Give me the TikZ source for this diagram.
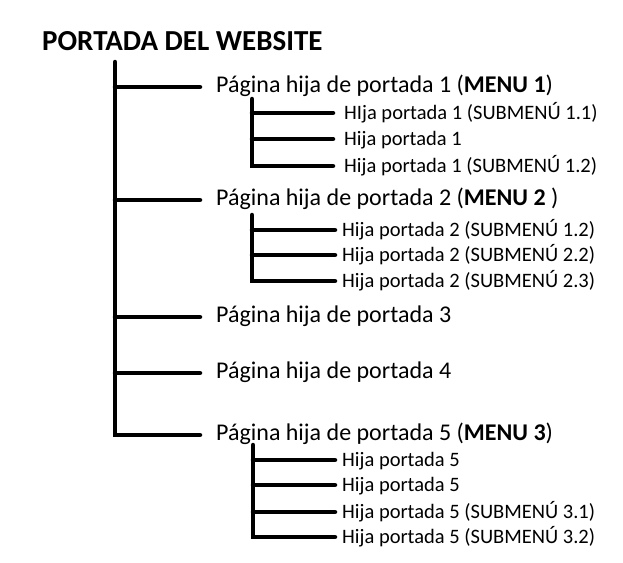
\documentclass[tikz,border=0pt]{standalone}
\usepackage{fontspec}
\setmainfont{Carlito}
\begin{document}
\begin{tikzpicture}[x=1pt,y=-1pt,
  conn/.style={line width=4.5pt, line cap=round},
  titlenode/.style={anchor=base west, inner sep=0pt, font=\fontsize{29}{33}\selectfont\bfseries},
  lvlone/.style={anchor=west, inner sep=0pt, font=\fontsize{24}{28}\selectfont, text height=16.8pt, text depth=6pt},
  lvltwo/.style={anchor=west, inner sep=0pt, font=\fontsize{20.5}{24}\selectfont, text height=14.3pt, text depth=1.3pt}]
\useasboundingbox (0,0) rectangle (623,562);

\node[titlenode] (title) at (42,50) {PORTADA DEL WEBSITE};

% level one
\node[lvlone] (p1) at (216,87) {Página hija de portada 1 (\textbf{MENU 1})};
\node[lvlone] (p2) at (216,200) {Página hija de portada 2 (\textbf{MENU 2} )};
\node[lvlone] (p3) at (216,317) {Página hija de portada 3};
\node[lvlone] (p4) at (216,373) {Página hija de portada 4};
\node[lvlone] (p5) at (216,435) {Página hija de portada 5 (\textbf{MENU 3})};

% level two, group 1
\node[lvltwo] (c11) at (344,113) {HIja portada 1 (SUBMENÚ 1.1)};
\node[lvltwo] (c12) at (344,139) {Hija portada 1};
\node[lvltwo] (c13) at (344,166) {Hija portada 1 (SUBMENÚ 1.2)};
% group 2
\node[lvltwo] (c21) at (342,230) {Hija portada 2 (SUBMENÚ 1.2)};
\node[lvltwo] (c22) at (342,255) {Hija portada 2 (SUBMENÚ 2.2)};
\node[lvltwo] (c23) at (342,281) {Hija portada 2 (SUBMENÚ 2.3)};
% group 5
\node[lvltwo] (c51) at (342,460) {Hija portada 5};
\node[lvltwo] (c52) at (342,485) {Hija portada 5};
\node[lvltwo] (c53) at (342,512) {Hija portada 5 (SUBMENÚ 3.1)};
\node[lvltwo] (c54) at (342,537) {Hija portada 5 (SUBMENÚ 3.2)};

% trunk
\coordinate (t0) at (115,62);
\draw[conn] (t0) |- ([xshift=-16pt]p5.west);
\foreach \n in {p1,p2,p3,p4}
  \draw[conn] (t0 |- \n.west) -- ([xshift=-16pt]\n.west);

% group 1
\coordinate (s1) at (252,99);
\draw[conn] (s1) |- ([xshift=-11pt]c13.west);
\foreach \n in {c11,c12}
  \draw[conn] (s1 |- \n.west) -- ([xshift=-11pt]\n.west);

% group 2
\coordinate (s2) at (252,215);
\draw[conn] (s2) |- ([xshift=-7pt]c23.west);
\foreach \n in {c21,c22}
  \draw[conn] (s2 |- \n.west) -- ([xshift=-7pt]\n.west);

% group 5
\coordinate (s5) at (253,445);
\draw[conn] (s5) |- ([xshift=-7pt]c54.west);
\foreach \n in {c51,c52,c53}
  \draw[conn] (s5 |- \n.west) -- ([xshift=-7pt]\n.west);
\end{tikzpicture}
\end{document}
